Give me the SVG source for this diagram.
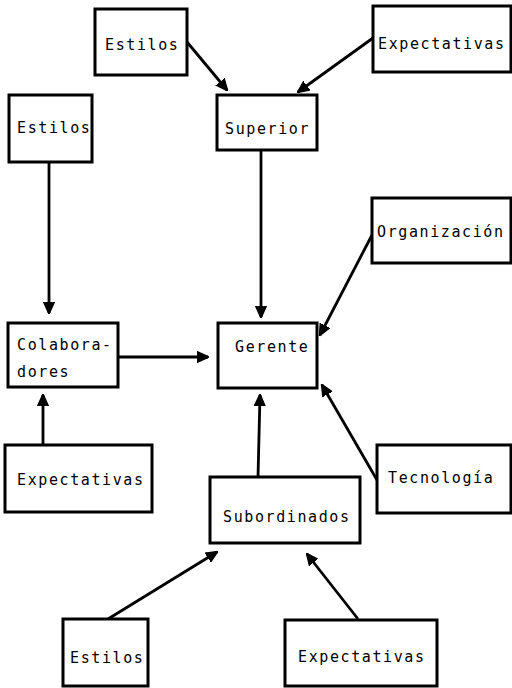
<svg xmlns="http://www.w3.org/2000/svg" width="512" height="688" viewBox="0 0 512 688">
  <style>
    .box { fill: #ffffff; stroke: #000000; stroke-width: 3; }
    .lbl { font-family: "DejaVu Sans Mono", "Liberation Mono", monospace; font-size: 15px; letter-spacing: 1.6px; fill: #000000; }
    .edge { stroke: #000000; stroke-width: 2.8; fill: none; marker-end: url(#head); }
  </style>
  <defs>
    <marker id="head" viewBox="0 0 10 10" refX="9" refY="5" markerWidth="12" markerHeight="12" markerUnits="userSpaceOnUse" orient="auto">
      <path d="M0,0.5 L10,5 L0,9.5 z" fill="#000000" stroke="#000000" stroke-width="1" stroke-linejoin="round"/>
    </marker>
  </defs>
  <rect width="512" height="688" fill="#ffffff"/>

  <g id="connectors">
    <line class="edge" x1="187" y1="42" x2="227" y2="90"/>
    <line class="edge" x1="373" y1="38" x2="298" y2="92"/>
    <line class="edge" x1="261" y1="150" x2="261" y2="317"/>
    <line class="edge" x1="49" y1="162" x2="49" y2="313"/>
    <line class="edge" x1="118" y1="357" x2="208" y2="357"/>
    <line class="edge" x1="372" y1="235" x2="320" y2="335"/>
    <line class="edge" x1="377" y1="480" x2="322" y2="385"/>
    <line class="edge" x1="258" y1="477" x2="260" y2="395"/>
    <line class="edge" x1="43" y1="445" x2="43" y2="395"/>
    <line class="edge" x1="108" y1="619" x2="217" y2="552"/>
    <line class="edge" x1="358" y1="619" x2="307" y2="554"/>
  </g>

  <g id="estilos-superior">
    <rect class="box" x="95" y="9" width="92" height="66"/>
    <text class="lbl" x="105" y="50">Estilos</text>
  </g>
  <g id="expectativas-superior">
    <rect class="box" x="373" y="6" width="138" height="66"/>
    <text class="lbl" x="378" y="49">Expectativas</text>
  </g>
  <g id="superior">
    <rect class="box" x="217" y="95" width="100" height="55"/>
    <text class="lbl" x="225" y="134">Superior</text>
  </g>
  <g id="estilos-colaboradores">
    <rect class="box" x="9" y="95" width="83" height="67"/>
    <text class="lbl" x="17" y="133">Estilos</text>
  </g>
  <g id="colaboradores">
    <rect class="box" x="8" y="323" width="110" height="64"/>
    <text class="lbl" x="17" y="350">Colabora-</text>
    <text class="lbl" x="17" y="377">dores</text>
  </g>
  <g id="gerente">
    <rect class="box" x="218" y="323" width="99" height="65"/>
    <text class="lbl" x="235" y="352">Gerente</text>
  </g>
  <g id="organizacion">
    <rect class="box" x="372" y="198" width="139" height="65"/>
    <text class="lbl" x="377" y="237">Organización</text>
  </g>
  <g id="expectativas-colaboradores">
    <rect class="box" x="5" y="445" width="147" height="67"/>
    <text class="lbl" x="17" y="485">Expectativas</text>
  </g>
  <g id="tecnologia">
    <rect class="box" x="377" y="445" width="134" height="68"/>
    <text class="lbl" x="388" y="483">Tecnología</text>
  </g>
  <g id="subordinados">
    <rect class="box" x="210" y="477" width="150" height="66"/>
    <text class="lbl" x="223" y="522">Subordinados</text>
  </g>
  <g id="estilos-subordinados">
    <rect class="box" x="63" y="619" width="85" height="67"/>
    <text class="lbl" x="70" y="663">Estilos</text>
  </g>
  <g id="expectativas-subordinados">
    <rect class="box" x="285" y="620" width="152" height="66"/>
    <text class="lbl" x="298" y="662">Expectativas</text>
  </g>
</svg>
